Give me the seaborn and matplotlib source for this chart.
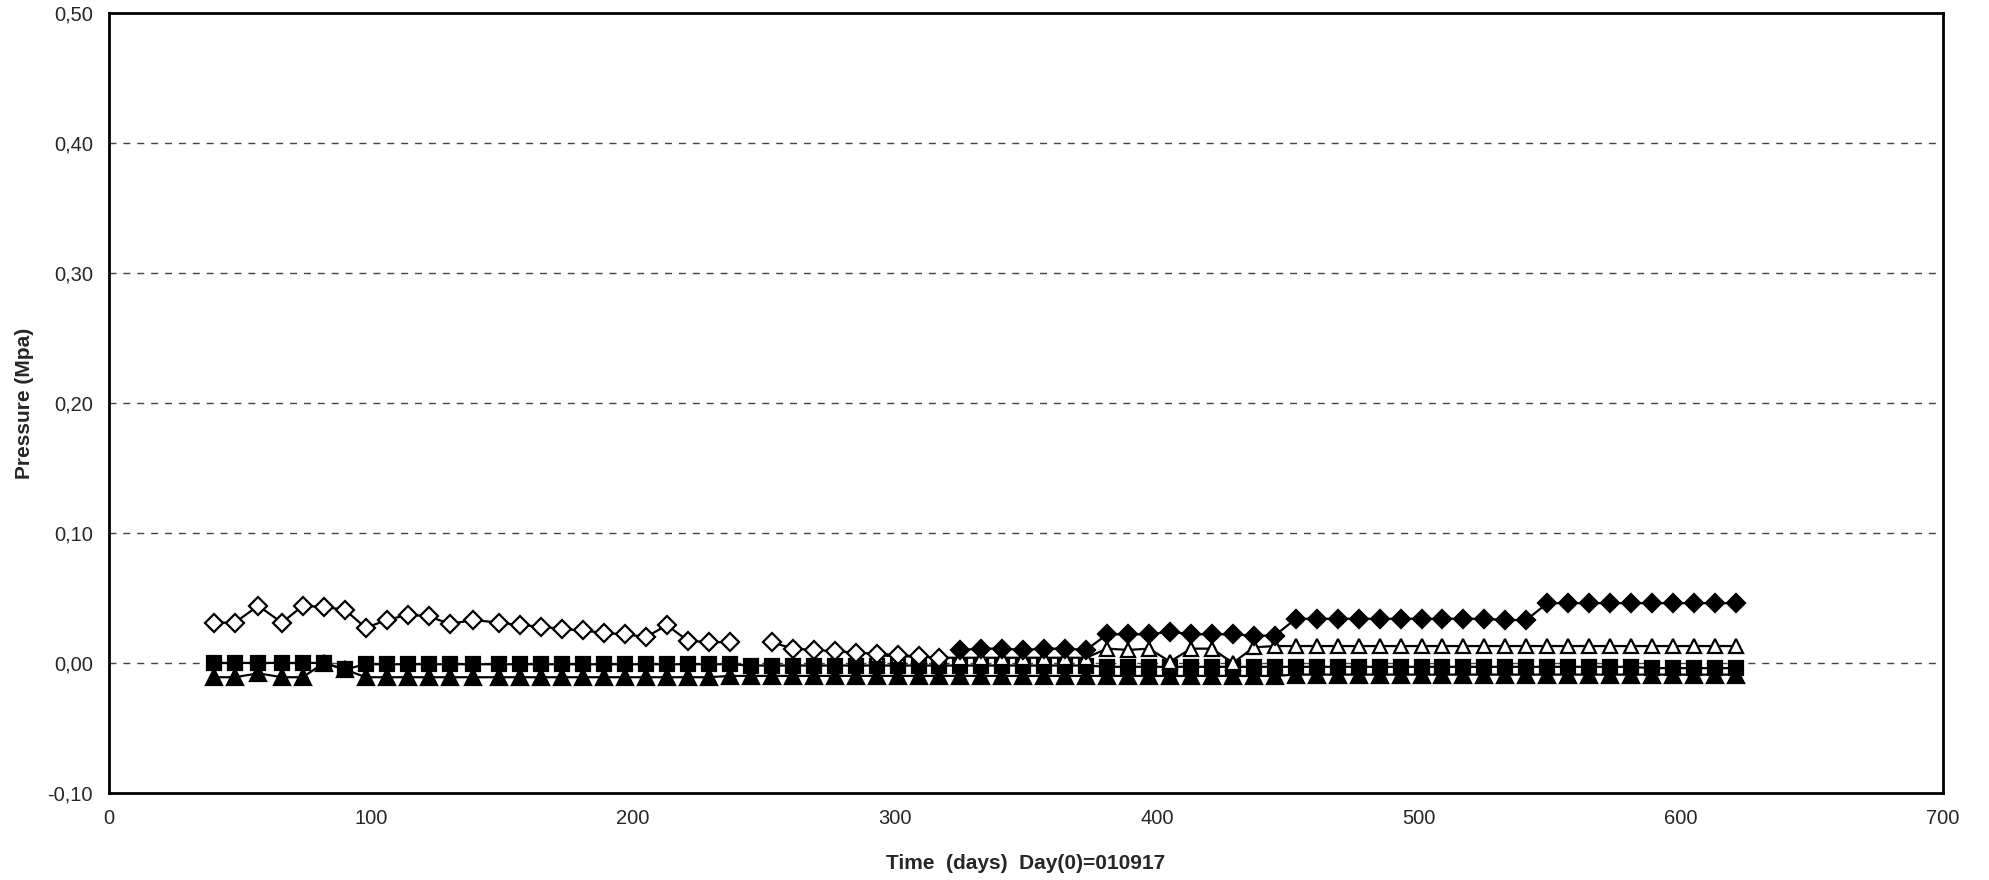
import numpy as np
import pandas as pd
import seaborn as sns
import matplotlib.pyplot as plt
from matplotlib.ticker import FuncFormatter, MultipleLocator

# measurement days (Day(0)=010917)
days = [40, 48, 57, 66, 74, 82, 90, 98, 106, 114, 122, 130, 139, 149,
        157, 165, 173, 181, 189, 197, 205, 213, 221, 229, 237, 245, 253, 261,
        269, 277, 285, 293, 301, 309, 317, 325, 333, 341, 349, 357, 365, 373,
        381, 389, 397, 405, 413, 421, 429, 437, 445, 453, 461, 469, 477, 485,
        493, 501, 509, 517, 525, 533, 541, 549, 557, 565, 573, 581, 589, 597,
        605, 613, 621]

# open diamonds, day 40 -> 317 (no reading at day 245)
open_diamond = [0.031, 0.031, 0.044, 0.031, 0.044, 0.043, 0.041, 0.027, 0.033,
                0.037, 0.036, 0.030, 0.033, 0.031, 0.029, 0.028, 0.026, 0.025,
                0.023, 0.022, 0.020, 0.029, 0.017, 0.016, 0.016, np.nan, 0.016,
                0.011, 0.010, 0.009, 0.008, 0.007, 0.006, 0.005, 0.004]

# filled diamonds, day 325 -> 621
filled_diamond = [0.010, 0.011, 0.011, 0.010, 0.011, 0.011, 0.010,
                  0.022, 0.022, 0.022, 0.024, 0.022, 0.022, 0.022, 0.021, 0.021,
                  0.034, 0.034, 0.034, 0.034, 0.034, 0.034, 0.034, 0.034, 0.034,
                  0.034, 0.033, 0.033,
                  0.046, 0.046, 0.046, 0.046, 0.046, 0.046, 0.046, 0.046, 0.046,
                  0.046]

# open triangles, day 293 -> 621
open_triangle = [0.006, 0.005, 0.005, 0.004, 0.004, 0.004, 0.004, 0.004, 0.004,
                 0.004, 0.004, 0.011, 0.010, 0.011, 0.001, 0.011, 0.011, 0.000,
                 0.012, 0.013, 0.013, 0.013, 0.013, 0.013, 0.013, 0.013, 0.013,
                 0.013, 0.013, 0.013, 0.013, 0.013, 0.013, 0.013, 0.013, 0.013,
                 0.013, 0.013, 0.013, 0.013, 0.013, 0.013]

# filled squares, all days
filled_square = [0.000, 0.000, 0.000, 0.000, 0.000, 0.000, -0.005, -0.001,
                 -0.001, -0.001, -0.001, -0.001, -0.001, -0.001, -0.001, -0.001,
                 -0.001, -0.001, -0.001, -0.001, -0.001, -0.001, -0.001, -0.001,
                 -0.001, -0.002, -0.002, -0.002, -0.002, -0.002, -0.002, -0.002,
                 -0.002, -0.002, -0.002, -0.002, -0.002, -0.002, -0.002, -0.002,
                 -0.002, -0.002, -0.003, -0.003, -0.003, -0.003, -0.003, -0.003,
                 -0.003, -0.003, -0.003, -0.003, -0.003, -0.003, -0.003, -0.003,
                 -0.003, -0.003, -0.003, -0.003, -0.003, -0.003, -0.003, -0.003,
                 -0.003, -0.003, -0.003, -0.003, -0.004, -0.004, -0.004, -0.004,
                 -0.004]

# filled triangles, all days
filled_triangle = [-0.011, -0.011, -0.008, -0.011, -0.011, 0.000, -0.005,
                   -0.011, -0.011, -0.011, -0.011, -0.011, -0.011, -0.011,
                   -0.011, -0.011, -0.011, -0.011, -0.011, -0.011, -0.011,
                   -0.011, -0.011, -0.011, -0.010, -0.010, -0.010, -0.010,
                   -0.010, -0.010, -0.010, -0.010, -0.010, -0.010, -0.010,
                   -0.010, -0.010, -0.010, -0.010, -0.010, -0.010, -0.010,
                   -0.010, -0.010, -0.010, -0.010, -0.010, -0.010, -0.010,
                   -0.010, -0.010, -0.009, -0.009, -0.009, -0.009, -0.009,
                   -0.009, -0.009, -0.009, -0.009, -0.009, -0.009, -0.009,
                   -0.009, -0.009, -0.009, -0.009, -0.009, -0.009, -0.009,
                   -0.009, -0.009, -0.009]

sns.set_style("white")
plt.rcParams['font.family'] = ['Liberation Sans', 'DejaVu Sans']

fig = plt.figure(figsize=(19.89, 8.8), dpi=100)
ax = fig.add_axes([0.0548, 0.099, 0.922, 0.886])

n_od = len(open_diamond)
od = pd.DataFrame({'day': days[:n_od], 'p': open_diamond})
gap = od['p'].isna().values.nonzero()[0][0]
fd = pd.DataFrame({'day': days[-len(filled_diamond):], 'p': filled_diamond})
ot = pd.DataFrame({'day': days[-len(open_triangle):], 'p': open_triangle})
fs = pd.DataFrame({'day': days, 'p': filled_square})
ft = pd.DataFrame({'day': days, 'p': filled_triangle})

common = dict(x='day', y='p', ax=ax, color='black', linewidth=1.6,
              estimator=None, sort=False, markeredgecolor='black',
              markeredgewidth=1.6)

sns.lineplot(data=ft, marker='^', markersize=11, markerfacecolor='black', **common)
sns.lineplot(data=fs, marker='s', markersize=10, markerfacecolor='black', **common)
sns.lineplot(data=ot, marker='^', markersize=10, markerfacecolor='white', **common)
sns.lineplot(data=fd, marker='D', markersize=9.5, markerfacecolor='black', **common)
sns.lineplot(data=od.iloc[:gap], marker='D', markersize=9, markerfacecolor='white', **common)
sns.lineplot(data=od.iloc[gap + 1:], marker='D', markersize=9, markerfacecolor='white', **common)

ax.set_xlim(0, 700)
ax.set_ylim(-0.10, 0.50)
ax.xaxis.set_major_locator(MultipleLocator(100))
ax.yaxis.set_major_locator(MultipleLocator(0.10))
ax.yaxis.set_major_formatter(FuncFormatter(lambda v, p: f"{v:.2f}".replace('.', ',').replace('-0,00', '0,00')))

for yv in [0.0, 0.1, 0.2, 0.3, 0.4]:
    ax.axhline(yv, color='#444444', linewidth=1.0, linestyle=(0, (5, 5)), zorder=0)

for s in ax.spines.values():
    s.set_color('black')
    s.set_linewidth(2)

ax.tick_params(axis='both', which='major', direction='out', length=5, width=1,
               color='black', labelsize=14.5, pad=6.5)

ax.set_xlabel('Time  (days)  Day(0)=010917', fontsize=15, fontweight='bold', labelpad=19)
ax.set_ylabel('Pressure (Mpa)', fontsize=15, fontweight='bold', labelpad=10)

fig.savefig('out.png', dpi=100)
